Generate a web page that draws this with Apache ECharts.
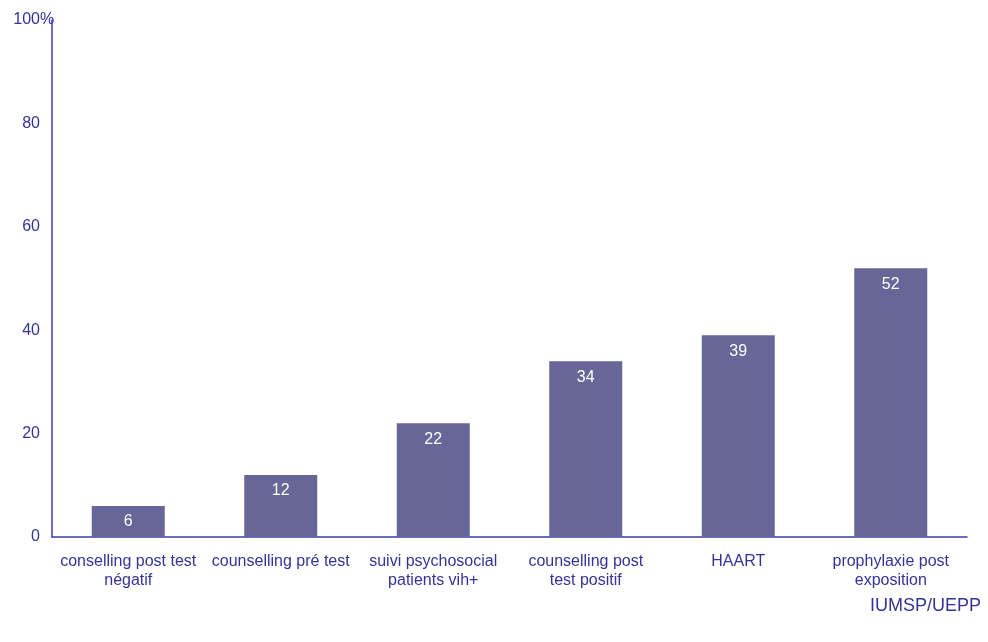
<!DOCTYPE html>
<html>
<head>
<meta charset="utf-8">
<script src="https://cdn.jsdelivr.net/npm/echarts@6/dist/echarts.min.js"></script>
<style>
  html, body { margin: 0; padding: 0; background: #ffffff; }
  #chart { width: 988px; height: 642px; }
</style>
</head>
<body>
<div id="chart"></div>
<script>
// Services and the share (%) reported for each
var categories = [
  'conselling post test\nnégatif',
  'counselling pré test',
  'suivi psychosocial\npatients vih+',
  'counselling post\ntest positif',
  'HAART',
  'prophylaxie post\nexposition'
];
var values = [6, 12, 22, 34, 39, 52];
var yTicks = [0, 20, 40, 60, 80, 100];
var unitSuffix = '%';
var sourceText = 'IUMSP/UEPP';

var textColor = '#333399';
var axisColor = '#3b3bb3';
var barColor = '#666699';
var font = 'Liberation Sans, Arial, sans-serif';

var yMin = yTicks[0];
var yMax = yTicks[yTicks.length - 1];
var gridLeft = 52;
var labelMargin = 12;

var chart = echarts.init(document.getElementById('chart'), null, { renderer: 'canvas' });
chart.setOption({
  animation: false,
  backgroundColor: '#ffffff',
  grid: { left: gridLeft, right: 21, top: 20, bottom: 105, containLabel: false },
  xAxis: {
    type: 'category',
    data: categories,
    axisLine: { show: true, lineStyle: { color: axisColor, width: 1.5 } },
    axisTick: { show: false },
    axisLabel: {
      color: textColor, fontFamily: font, fontSize: 16,
      lineHeight: 19, margin: 15, interval: 0
    },
    splitLine: { show: false }
  },
  yAxis: {
    type: 'value',
    min: yMin,
    max: yMax,
    interval: yTicks[1] - yTicks[0],
    axisLine: { show: true, lineStyle: { color: axisColor, width: 1.5 } },
    axisTick: { show: false },
    splitLine: { show: false },
    axisLabel: { color: textColor, fontFamily: font, fontSize: 16, margin: labelMargin }
  },
  series: [{
    type: 'bar',
    data: values,
    barWidth: 73,
    itemStyle: { color: barColor },
    label: {
      show: true,
      position: 'insideTop',
      distance: 8,
      color: '#ffffff',
      fontFamily: font,
      fontSize: 16
    }
  }]
});

// Unit sign placed right after the top tick label of the value axis
var topY = chart.convertToPixel({ yAxisIndex: 0 }, yMax);
chart.setOption({
  graphic: [{
    type: 'text',
    x: gridLeft - labelMargin,
    y: topY,
    style: {
      text: unitSuffix, fill: textColor, font: '16px ' + font,
      textAlign: 'left', textVerticalAlign: 'middle'
    }
  }, {
    type: 'text',
    right: 7,
    top: 597,
    style: { text: sourceText, fill: textColor, font: '18px ' + font }
  }]
});
</script>
</body>
</html>
